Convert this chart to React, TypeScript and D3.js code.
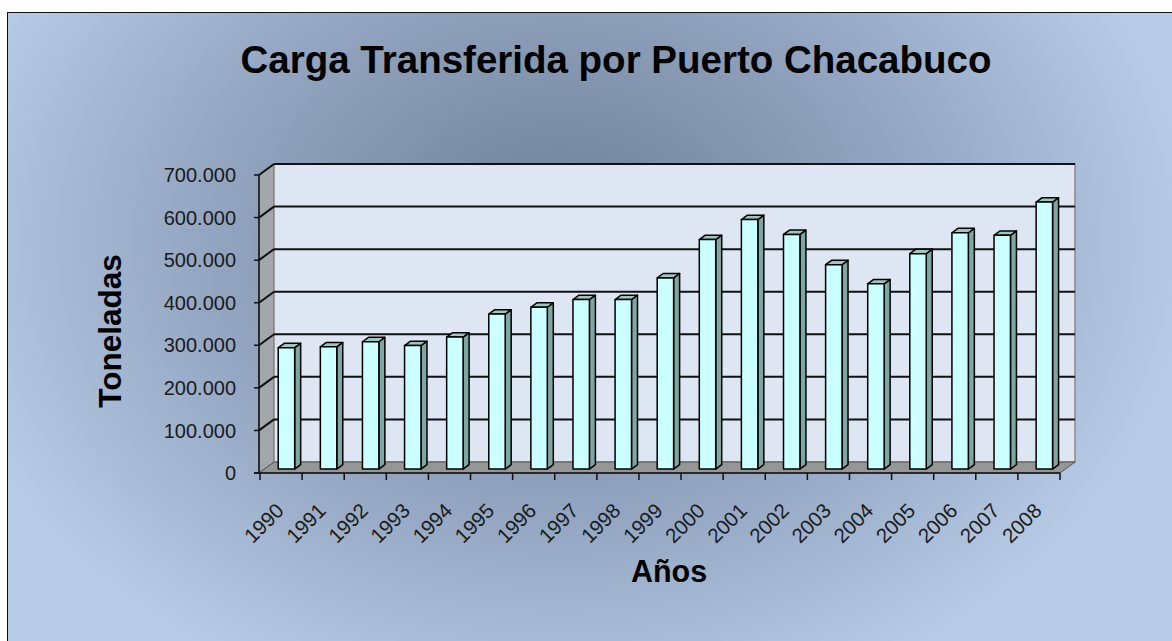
import React from "react";
import * as d3 from "d3";

const years = [
  "1990", "1991", "1992", "1993", "1994", "1995", "1996", "1997", "1998", "1999",
  "2000", "2001", "2002", "2003", "2004", "2005", "2006", "2007", "2008",
];
const tonnes = [
  285000, 287000, 299000, 290000, 310000, 364000, 380000, 398000, 398000, 449000,
  539000, 586000, 551000, 480000, 435000, 506000, 555000, 549000, 627000,
];
const yTicks = [0, 100000, 200000, 300000, 400000, 500000, 600000, 700000];

const W = 1172;
const H = 641;
// depth of the 3d box
const DX = 15;
const DY = -11;

const esCL = d3.formatLocale({
  decimal: ",",
  thousands: ".",
  grouping: [3],
  currency: ["$", ""],
});
const fmt = esCL.format(",");

export default function App() {
  const x = d3.scaleBand<string>().domain(years).range([260, 1060]).paddingInner(0).paddingOuter(0);
  const y = d3.scaleLinear().domain([0, 700000]).range([473, 175]);

  const y0 = y(0);
  const yTop = y(700000);
  const xl = x.range()[0];
  const xr = x.range()[1];

  // bar depth position, fraction of the box depth
  const f0 = 0.36;
  const f1 = 0.76;
  const barW = x.bandwidth() * 0.39;

  const pts = (p: number[][]) => p.map((d) => d.join(",")).join(" ");

  return (
    <svg
      width={W}
      height={H}
      style={{ position: "absolute", left: 0, top: 0, display: "block" }}
      fontFamily="Liberation Sans, Arial, sans-serif"
    >
      <defs>
        <radialGradient id="bg" cx="560" cy="240" r="640" gradientUnits="userSpaceOnUse"
          gradientTransform="translate(560 240) scale(1 0.78) translate(-560 -240)">
          <stop offset="0" stopColor="#6d7d97" />
          <stop offset="0.55" stopColor="#93a5c0" />
          <stop offset="1" stopColor="#b9cde8" />
        </radialGradient>
      </defs>
      <rect x={0} y={0} width={W} height={H} fill="#ffffff" />
      <rect x={7.5} y={12.5} width={W} height={H} fill="url(#bg)" stroke="#111" strokeWidth={1} />

      <text x={616} y={73} textAnchor="middle" fontSize={38.5} fontWeight="bold" fill="#000">
        Carga Transferida por Puerto Chacabuco
      </text>

      {/* left wall */}
      <polygon
        points={pts([[xl - 1, y0], [xl - 1, yTop], [xl - 1 + DX, yTop + DY], [xl - 1 + DX, y0 + DY]])}
        fill="#a3a6ab"
        stroke="#555"
        strokeWidth={1}
      />
      {/* back wall */}
      <rect
        x={xl - 1 + DX}
        y={yTop + DY}
        width={xr + DX - (xl - 1 + DX)}
        height={y0 - yTop}
        fill="#dde6f2"
        stroke="#8a8a8a"
        strokeWidth={1.5}
      />
      {/* floor */}
      <polygon
        points={pts([[xl - 1, y0], [xr, y0], [xr + DX, y0 + DY], [xl - 1 + DX, y0 + DY]])}
        fill="#969696"
        stroke="#555"
        strokeWidth={1}
      />
      {/* gridlines */}
      {yTicks.slice(1).map((t) => (
        <g key={"g" + t}>
          <line x1={xl - 1} y1={y(t)} x2={xl - 1 + DX} y2={y(t) + DY} stroke="#111" strokeWidth={2} />
          <line x1={xl - 1 + DX} y1={y(t) + DY} x2={xr + DX} y2={y(t) + DY} stroke="#111" strokeWidth={2} />
        </g>
      ))}

      {/* bars */}
      {years.map((yr, i) => {
        const cx = (x(yr) as number) + x.bandwidth() / 2;
        const bx0 = cx - barW / 2 + DX * f0;
        const bx1 = bx0 + barW;
        const by0 = y0 + DY * f0;
        const byT = y(tonnes[i]) + DY * f0;
        const ddx = DX * (f1 - f0);
        const ddy = DY * (f1 - f0);
        return (
          <g key={yr} stroke="#000" strokeWidth={1.5} strokeLinejoin="round">
            <polygon points={pts([[bx1, by0], [bx1, byT], [bx1 + ddx, byT + ddy], [bx1 + ddx, by0 + ddy]])} fill="#7ea6a2" />
            <polygon points={pts([[bx0, byT], [bx1, byT], [bx1 + ddx, byT + ddy], [bx0 + ddx, byT + ddy]])} fill="#9cc7c1" />
            <rect x={bx0} y={byT} width={barW} height={by0 - byT} fill="#ccffff" />
          </g>
        );
      })}

      {/* value axis */}
      <line x1={xl - 1} y1={y0} x2={xl - 1} y2={yTop} stroke="#111" strokeWidth={1.5} />
      {yTicks.map((t) => (
        <g key={"t" + t}>
          <line x1={xl - 6} y1={y(t)} x2={xl - 1} y2={y(t)} stroke="#111" strokeWidth={1.5} />
          <text x={236} y={y(t)} dy="0.36em" textAnchor="end" fontSize={20} fill="#1a1a1a">
            {fmt(t)}
          </text>
        </g>
      ))}

      {/* category axis */}
      <line x1={xl - 6} y1={y0} x2={xr} y2={y0} stroke="#111" strokeWidth={1.5} />
      {years.concat(["end"]).map((yr, i) => {
        const tx = xl + i * x.bandwidth();
        return <line key={"c" + yr} x1={tx} y1={y0} x2={tx} y2={y0 + 7} stroke="#111" strokeWidth={1.5} />;
      })}
      {years.map((yr) => {
        const cx = (x(yr) as number) + x.bandwidth() / 2;
        return (
          <text
            key={"l" + yr}
            transform={`translate(${cx + 4},${512}) rotate(-45)`}
            textAnchor="end"
            fontSize={20.5}
            fill="#1a1a1a"
          >
            {yr}
          </text>
        );
      })}

      <text x={669} y={582} textAnchor="middle" fontSize={30.5} fontWeight="bold" fill="#000">
        Años
      </text>
      <text transform="translate(121,331) rotate(-90)" textAnchor="middle" fontSize={31.5} fontWeight="bold" fill="#000">
        Toneladas
      </text>
    </svg>
  );
}
